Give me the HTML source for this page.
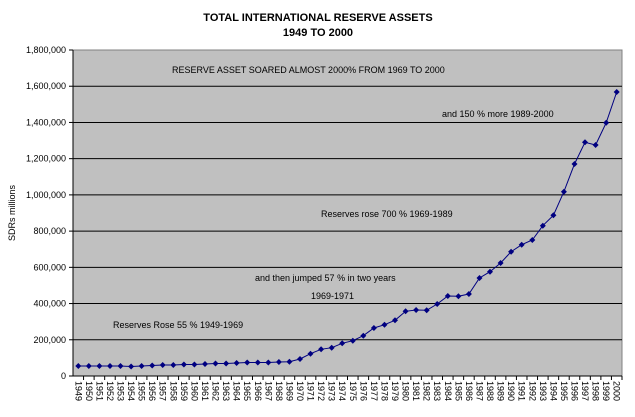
<!DOCTYPE html>
<html><head><meta charset="utf-8"><style>
body{margin:0;background:#fff;width:635px;height:417px;overflow:hidden}
svg{display:block;font-family:"Liberation Sans",Arial,sans-serif}
</style></head><body>
<svg id="s" width="635" height="417" xmlns="http://www.w3.org/2000/svg">
<rect x="73" y="50" width="549" height="326" fill="#c0c0c0" stroke="#808080" stroke-width="1"/>
<g id="g"></g>
<text x="318" y="21" font-size="11" font-weight="bold" text-anchor="middle">TOTAL INTERNATIONAL RESERVE ASSETS</text>
<text x="318" y="36" font-size="11" font-weight="bold" text-anchor="middle">1949 TO 2000</text>
<text x="172" y="73" font-size="9">RESERVE ASSET SOARED ALMOST 2000% FROM 1969 TO 2000</text>
<text x="442" y="117" font-size="9">and 150 % more 1989-2000</text>
<text x="321" y="217" font-size="9">Reserves rose 700 % 1969-1989</text>
<text x="255" y="281" font-size="9">and then jumped 57 % in two years</text>
<text x="311" y="299" font-size="9">1969-1971</text>
<text x="113" y="328" font-size="9">Reserves Rose 55 % 1949-1969</text>
<text transform="translate(15,213) rotate(-90)" font-size="9" text-anchor="middle">SDRs millions</text>
</svg>
<script>
(function(){
var g=document.getElementById('g'),h='';
var yTop=50,yBot=376,st=(yBot-yTop)/9;
var lab=['0','200,000','400,000','600,000','800,000','1,000,000','1,200,000','1,400,000','1,600,000','1,800,000'];
for(var k=0;k<=9;k++){var y=yBot-k*st;
 if(k>0&&k<9)h+='<line x1="73" x2="622" y1="'+y+'" y2="'+y+'" stroke="#000" stroke-width="1"/>';
 h+='<line x1="69" x2="73" y1="'+y+'" y2="'+y+'" stroke="#000"/>';
 h+='<text x="66" y="'+(y+3)+'" font-size="9" text-anchor="end">'+lab[k]+'</text>';}
h+='<line x1="73" x2="73" y1="50" y2="376" stroke="#000"/><line x1="73" x2="622" y1="376" y2="376" stroke="#000"/>';
var ys=[366,366,366,366,366,366.5,366,365.5,365,365,364.5,364.5,364,363.5,363.5,363,362.5,362.5,362.5,362,361.7,359,353.7,349.3,347.7,343.3,340.7,335.7,328,324.7,320.3,311.3,310,310.3,304,296,296.3,294,278,271.7,263,251.7,244.7,240,225.7,215.3,191.7,164,142.3,145,122.7,92];
var cw=549/52,pts=[];
for(var i=0;i<52;i++){var x=73+cw*(i+0.5);pts.push(x.toFixed(1)+','+ys[i]);
 var tx=73+cw*(i+1);h+='<line x1="'+tx+'" x2="'+tx+'" y1="376" y2="380" stroke="#000"/>';
 h+='<text transform="translate('+(x-3)+',381) rotate(90)" font-size="9">'+(1949+i)+'</text>';}
h+='<polyline points="'+pts.join(' ')+'" fill="none" stroke="#000080" stroke-width="1"/>';
for(var i=0;i<52;i++){var p=pts[i].split(',');var px=+p[0],py=+p[1];
 h+='<path d="M'+(px-3)+' '+py+'L'+px+' '+(py-3)+'L'+(px+3)+' '+py+'L'+px+' '+(py+3)+'Z" fill="#000080"/>';}
g.innerHTML=h;
})();
</script>
</body></html>
